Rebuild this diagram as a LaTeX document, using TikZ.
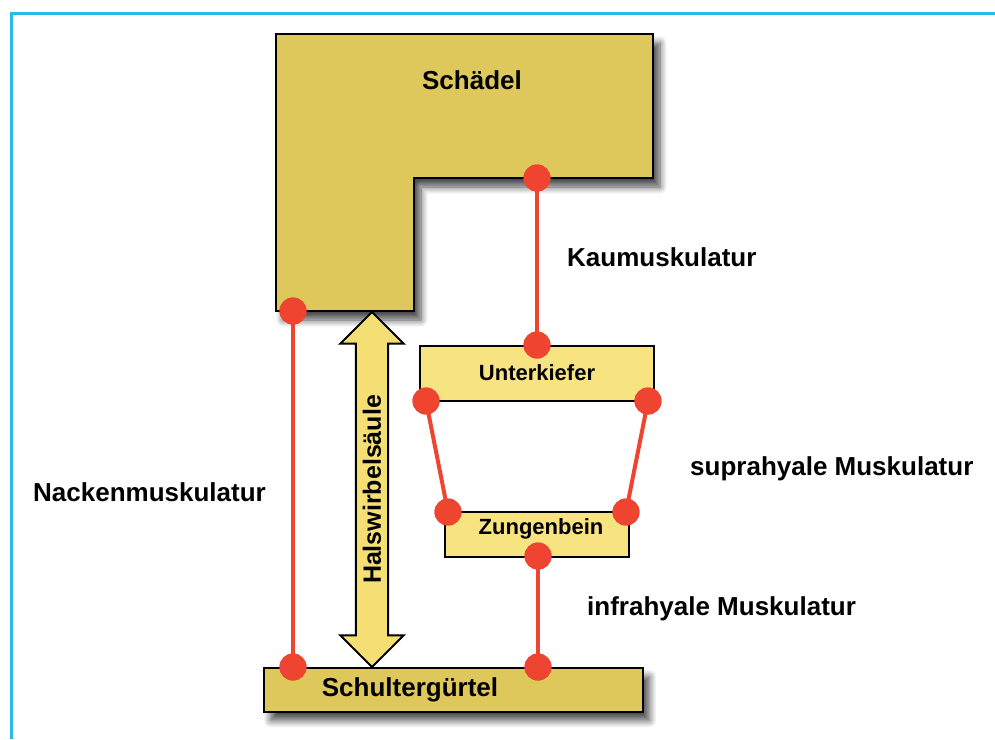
\documentclass[tikz,border=0pt]{standalone}
\usepackage{fontspec}
\setmainfont{Liberation Sans}
\usetikzlibrary{shapes.arrows,shadows.blur}
\definecolor{frameblue}{HTML}{2BB8EA}
\definecolor{bonedark}{HTML}{DEC75B}
\definecolor{bonelight}{HTML}{F7E37F}
\definecolor{musclered}{HTML}{EE4430}
\definecolor{arrowyellow}{HTML}{F4DF74}
\tikzset{
  x=1pt, y=-1pt,
  shade/.style={blur shadow={shadow xshift=7pt, shadow yshift=-9pt, shadow blur steps=8, shadow opacity=70, shadow blur radius=7pt}},
  bonebox/.style={draw=black, line width=2pt, rectangle, inner sep=0pt, font=\bfseries\fontsize{22}{25}\selectfont},
  jointdot/.style={circle, fill=musclered, minimum size=27pt, inner sep=0pt},
  muscle/.style={draw=musclered, line width=4pt},
  lbl/.style={font=\bfseries\fontsize{26}{29}\selectfont, anchor=west, inner sep=0pt},
}
\begin{document}
\begin{tikzpicture}
\useasboundingbox (0,0) rectangle (995,739);
% frame
\draw[frameblue, line width=3pt] (11.5,739) -- (11.5,13.5) -- (995,13.5);

% skull (L-shape)
\fill[bonedark, shade] (276,34) -- (653,34) -- (653,178) -- (414,178) -- (414,311) -- (276,311) -- cycle;
\draw[black, line width=2pt, line join=miter] (276,34) -- (653,34) -- (653,178) -- (414,178) -- (414,311) -- (276,311) -- cycle;
\node[font=\bfseries\fontsize{26}{29}\selectfont] (schaedel) at (472,80) {Schädel};
\coordinate (skullL) at (293,311);
\coordinate (skullR) at (537,178);

% shoulder girdle
\node[bonebox, fill=bonedark, shade, minimum width=379pt, minimum height=44pt] (sg) at (453,689.5) {};
\node[font=\bfseries\fontsize{26}{29}\selectfont] (sgtext) at (410,690) {Schultergürtel};

% lower jaw
\node[bonebox, fill=bonelight, minimum width=234pt, minimum height=55pt] (uk) at (537,373) {Unterkiefer};
% hyoid
\node[bonebox, fill=bonelight, minimum width=184pt, minimum height=45pt] (zb) at (537,534) {};
\node[font=\bfseries\fontsize{22}{25}\selectfont] (zbtext) at (541,529) {Zungenbein};

% cervical spine double arrow
\node[double arrow, draw=black, line width=2pt, fill=arrowyellow, rotate=90,
      minimum height=355pt, minimum width=61pt, double arrow head extend=15.5pt,
      double arrow tip angle=90, inner xsep=0pt, inner ysep=6pt,
      font=\bfseries\fontsize{25}{28}\selectfont] (hws) at (372,489.5) {Halswirbelsäule};

% joints
\node[jointdot] (d1) at (skullR) {};
\node[jointdot] (d2) at (537,345) {};
\node[jointdot] (d3) at (426,401) {};
\node[jointdot] (d4) at (648,401) {};
\node[jointdot] (d5) at (448,512) {};
\node[jointdot] (d6) at (626,512) {};
\node[jointdot] (d7) at (538,556) {};
\node[jointdot] (d8) at (538,667) {};
\node[jointdot] (d9) at (skullL) {};
\node[jointdot] (d10) at (293,667) {};

% muscles
\draw[muscle] (d1.center) -- (d2.center);
\draw[muscle] (d3.center) -- (d5.center);
\draw[muscle] (d4.center) -- (d6.center);
\draw[muscle] (d7.center) -- (d8.center);
\draw[muscle] (d9.center) -- (d10.center);
% dots on top of the lines
\foreach \d in {d1,d2,d3,d4,d5,d6,d7,d8,d9,d10} \fill[musclered] (\d) circle (13.5pt);

% labels
\node[lbl] (kau) at (567,257) {Kaumuskulatur};
\node[lbl] (nack) at (33,492) {Nackenmuskulatur};
\node[lbl] (supra) at (690,469) {suprahyale Muskulatur};
\node[lbl] (infra) at (587,609) {infrahyale Muskulatur};
\end{tikzpicture}
\end{document}
